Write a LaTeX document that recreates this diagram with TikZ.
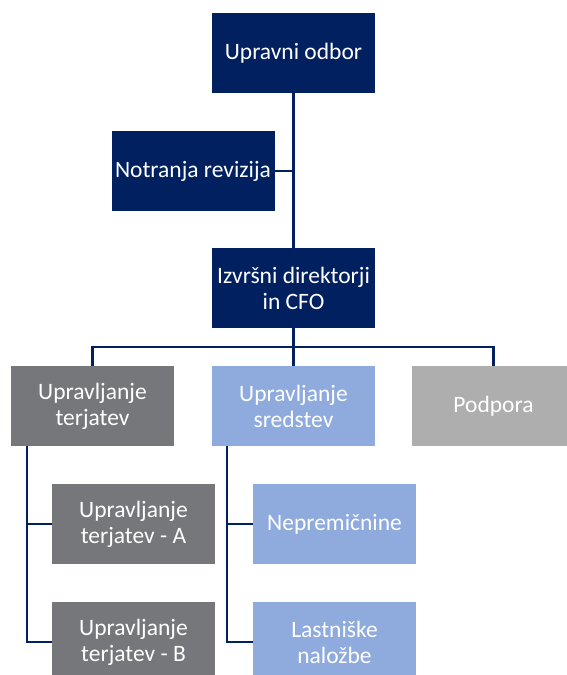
\documentclass[tikz,border=0pt]{standalone}
\usepackage{fontspec}
\setmainfont{Carlito}
\usetikzlibrary{positioning,calc}

\definecolor{navy}{HTML}{002060}
\definecolor{slate}{HTML}{76777B}
\definecolor{sky}{HTML}{8FAADC}
\definecolor{mist}{HTML}{AEAEAE}

\begin{document}
\begin{tikzpicture}[x=1pt,y=-1pt,
  box/.style={minimum width=163pt,minimum height=80pt,inner sep=2pt,outer sep=0pt,
    align=center,text=white,font=\fontsize{23.5}{26}\selectfont},
  lead/.style={box,fill=navy},
  recvbox/.style={box,fill=slate},
  assetbox/.style={box,fill=sky},
  supportbox/.style={box,fill=mist},
  link/.style={draw=navy,line width=2.9pt}]
  \useasboundingbox (0,0) rectangle (566,675);

  % Top of the chart
  \node[lead] (board) at (293.5,53) {Upravni odbor};
  \node[lead,below=38pt of board,xshift=-100.5pt] (audit) {Notranja revizija};
  \node[lead,below=37pt of audit,xshift=100.5pt] (exec) {Izvršni direktorji\\in CFO};

  % Departments
  \node[assetbox,below=38pt of exec] (assets) {Upravljanje\\sredstev};
  \node[recvbox,left=38pt of assets] (recv) {Upravljanje\\terjatev};
  \node[supportbox,right=37pt of assets] (support) {Podpora};

  % Units under the departments
  \node[recvbox,below=38pt of recv,xshift=41pt] (recvA) {Upravljanje\\terjatev - A};
  \node[recvbox,below=38pt of recvA] (recvB) {Upravljanje\\terjatev - B};
  \node[assetbox,below=38pt of assets,xshift=41pt] (estate) {Nepremičnine};
  \node[assetbox,below=38pt of estate] (equity) {Lastniške\\naložbe};

  % Connectors
  \coordinate (bus) at ($(exec.south)!0.5!(assets.north)$);
  \path[link] (board.south) -- (exec.north);
  \path[link] (audit.east) -- (audit.east -| board.south);
  \path[link] (exec.south) -- (assets.north);
  \path[link] (recv.north) |- (bus) -| (support.north);

  % Trunks to the units
  \path[link] ($(recv.south west)+(16,0)$) |- (recvA.west);
  \path[link] ($(recv.south west)+(16,0)$) |- (recvB.west);
  \path[link] ($(assets.south west)+(15,0)$) |- (estate.west);
  \path[link] ($(assets.south west)+(15,0)$) |- (equity.west);
\end{tikzpicture}
\end{document}
